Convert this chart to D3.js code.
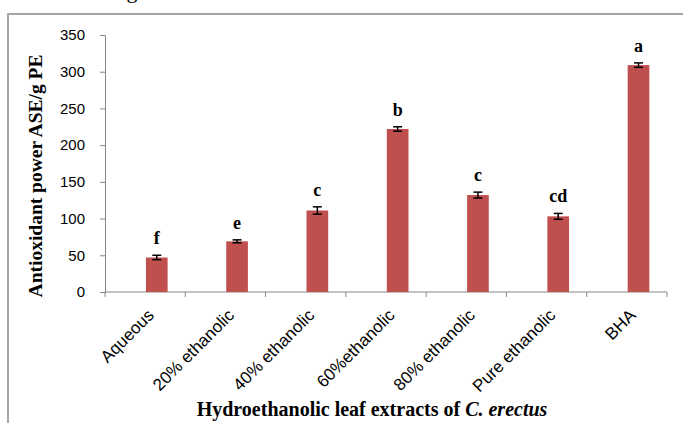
<!DOCTYPE html>
<html>
<head>
<meta charset="utf-8">
<script src="https://cdn.jsdelivr.net/npm/d3@7"></script>
<style>
	body { margin: 0; background: #fff; }
	svg { display: block; }
</style>
</head>
<body>
<div id="chart"></div>
<script>
// data
const categories = ["Aqueous", "20% ethanolic", "40% ethanolic", "60%ethanolic", "80% ethanolic", "Pure ethanolic", "BHA"];
const values = [47, 69, 111, 222, 132, 103, 309];
const errors = [3, 2, 5, 3, 4, 4, 3];
const letters = ["f", "e", "c", "b", "c", "cd", "a"];
const yTicks = [0, 50, 100, 150, 200, 250, 300, 350];

const width = 683,
	height = 423,
	margin = {top: 35, right: 16, bottom: 131, left: 105},
	innerWidth = width - margin.left - margin.right,
	innerHeight = height - margin.top - margin.bottom;

const svg = d3.select('#chart').append('svg')
	.attr('width', width)
	.attr('height', height);

// grey frame around the figure (cut off at the right and bottom)
svg.append('rect')
	.attr('x', 8)
	.attr('y', 14)
	.attr('width', width)
	.attr('height', height)
	.style('fill', 'none')
	.style('stroke', '#a6a6a6')
	.style('stroke-width', 2);

// leftover of the caption line above
svg.append('text')
	.attr('x', 132)
	.attr('y', -2)
	.attr('text-anchor', 'middle')
	.style('font-family', 'Liberation Serif, serif')
	.style('font-size', '22px')
	.text('g');

const x = d3.scaleBand()
	.domain(categories)
	.range([0, innerWidth])
	.padding(0);

const y = d3.scaleLinear()
	.domain([0, 350])
	.range([innerHeight, 0]);

const barWidth = x.bandwidth() * 0.27,
	barCenter = d => x(d) + x.bandwidth() * 0.645;

const g = svg.append('g')
	.attr('transform', `translate(${margin.left}, ${margin.top})`);

// y axis
const yAxis = g.append('g')
	.call(d3.axisLeft(y).tickValues(yTicks).tickSize(5).tickPadding(15).tickFormat(d3.format('d')));
yAxis.select('.domain').style('stroke', '#868686');
yAxis.selectAll('.tick line').style('stroke', '#868686');
yAxis.selectAll('text')
	.style('font-family', 'Liberation Sans, Arial, sans-serif')
	.style('font-size', '15px')
	.style('fill', '#000');

// x axis: ticks between the categories
const xAxis = g.append('g')
	.attr('transform', `translate(0, ${innerHeight})`);
xAxis.append('line')
	.attr('x1', 0)
	.attr('x2', innerWidth)
	.style('stroke', '#868686');
xAxis.selectAll('.xtick')
	.data(categories.concat(['end']))
	.enter()
	.append('line')
	.attr('x1', (d, i) => i * x.bandwidth())
	.attr('x2', (d, i) => i * x.bandwidth())
	.attr('y2', 5)
	.style('stroke', '#868686');

xAxis.selectAll('.xlabel')
	.data(categories)
	.enter()
	.append('text')
	.attr('transform', d => `translate(${barCenter(d) - 6}, 20) rotate(-45)`)
	.attr('text-anchor', 'end')
	.attr('dy', '0.35em')
	.style('font-family', 'Liberation Sans, Arial, sans-serif')
	.style('font-size', '17px')
	.text(d => d);

// bars
const data = categories.map((c, i) => ({cat: c, value: values[i], err: errors[i], letter: letters[i]}));

g.selectAll('.bar')
	.data(data)
	.enter()
	.append('rect')
	.attr('x', d => barCenter(d.cat) - barWidth / 2)
	.attr('y', d => y(d.value))
	.attr('width', barWidth)
	.attr('height', d => innerHeight - y(d.value))
	.style('fill', '#c0504d');

// error bars
const err = g.selectAll('.err')
	.data(data)
	.enter()
	.append('g')
	.style('stroke', '#000')
	.style('stroke-width', 1.5);
err.append('line')
	.attr('x1', d => barCenter(d.cat))
	.attr('x2', d => barCenter(d.cat))
	.attr('y1', d => y(d.value + d.err))
	.attr('y2', d => y(d.value - d.err));
err.append('line')
	.attr('x1', d => barCenter(d.cat) - 4.5)
	.attr('x2', d => barCenter(d.cat) + 4.5)
	.attr('y1', d => y(d.value + d.err))
	.attr('y2', d => y(d.value + d.err));
err.append('line')
	.attr('x1', d => barCenter(d.cat) - 4.5)
	.attr('x2', d => barCenter(d.cat) + 4.5)
	.attr('y1', d => y(d.value - d.err))
	.attr('y2', d => y(d.value - d.err));

// significance letters
g.selectAll('.letter')
	.data(data)
	.enter()
	.append('text')
	.attr('x', d => barCenter(d.cat))
	.attr('y', d => y(d.value + d.err) - 11)
	.attr('text-anchor', 'middle')
	.style('font-family', 'Liberation Serif, serif')
	.style('font-weight', 'bold')
	.style('font-size', '18px')
	.text(d => d.letter);

// axis titles
svg.append('text')
	.attr('transform', 'translate(42, 176) rotate(-90)')
	.attr('text-anchor', 'middle')
	.style('font-family', 'Liberation Serif, serif')
	.style('font-weight', 'bold')
	.style('font-size', '19.5px')
	.text('Antioxidant power ASE/g PE');

const xTitle = svg.append('text')
	.attr('x', 372)
	.attr('y', 416)
	.attr('text-anchor', 'middle')
	.style('font-family', 'Liberation Serif, serif')
	.style('font-weight', 'bold')
	.style('font-size', '20px');
xTitle.append('tspan').text('Hydroethanolic leaf extracts of ');
xTitle.append('tspan').style('font-style', 'italic').text('C. erectus');
</script>
</body>
</html>
